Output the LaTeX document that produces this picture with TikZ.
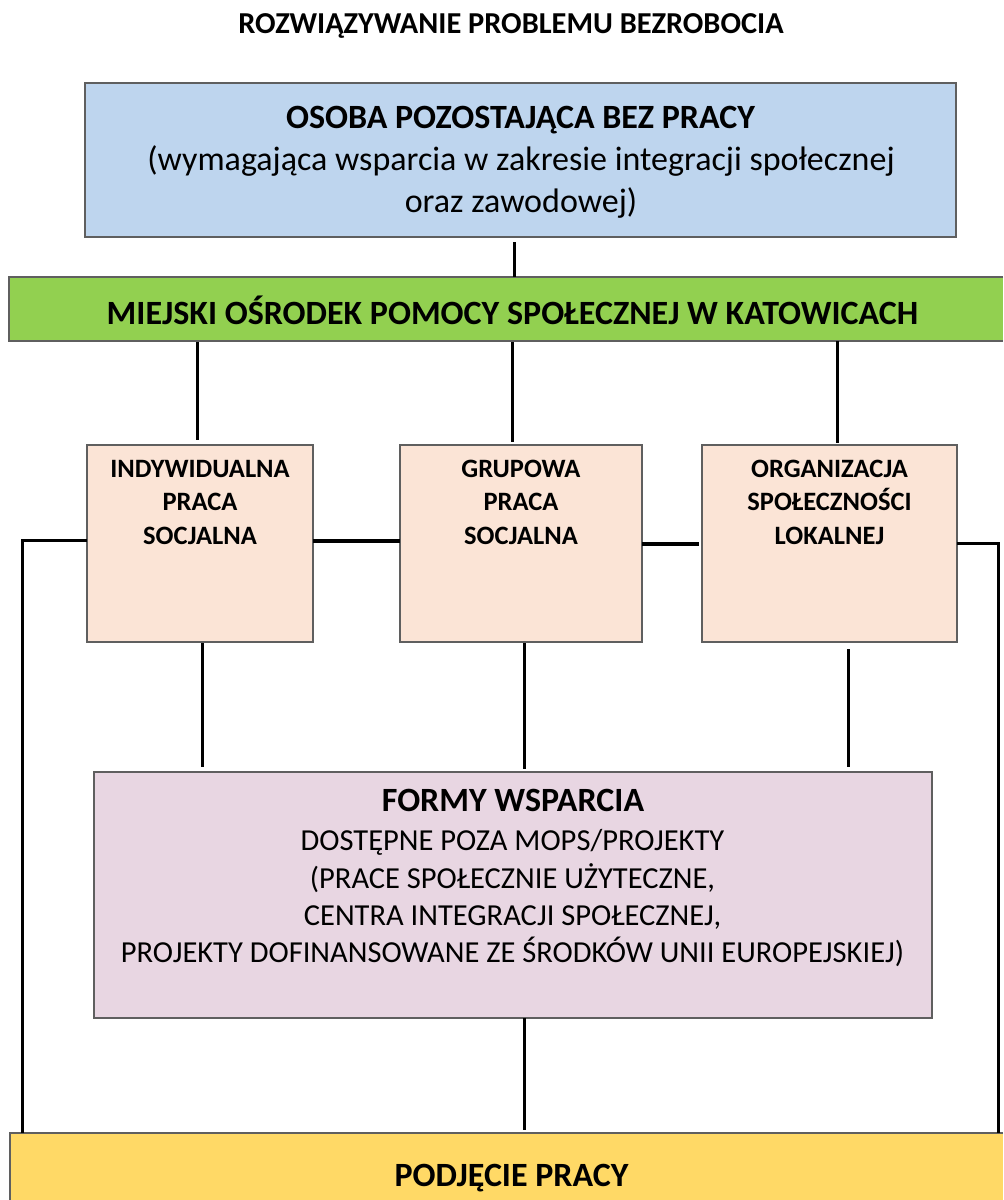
\documentclass[tikz,border=0pt]{standalone}
\usepackage{fontspec}
\setmainfont{Carlito}
\usetikzlibrary{calc}
\definecolor{cblue}{RGB}{190,213,238}
\definecolor{cgreen}{RGB}{146,208,80}
\definecolor{csalmon}{RGB}{251,228,214}
\definecolor{cpink}{RGB}{232,214,226}
\definecolor{cyellow}{RGB}{255,217,102}
\definecolor{cedge}{RGB}{95,95,95}
\begin{document}
\begin{tikzpicture}[x=0.5pt,y=-0.5pt,
  box/.style={draw=cedge, line width=0.6pt, inner sep=0pt, outer sep=0pt},
  band/.style={inner sep=0pt, outer sep=0pt},
  edgeline/.style={draw=cedge, line width=0.6pt},
  txt/.style={inner sep=0pt, anchor=base},
  fbig/.style={font=\fontsize{17}{20}\selectfont\bfseries},
  fbigr/.style={font=\fontsize{17}{20}\selectfont},
  ftitle/.style={font=\fontsize{15.2}{18}\selectfont\bfseries},
  fsmall/.style={font=\fontsize{13.25}{16}\selectfont\bfseries},
  fform/.style={font=\fontsize{15.25}{18}\selectfont},
  conn/.style={line width=1.5pt, line cap=butt},
  hconn/.style={line width=2pt, line cap=butt}]
\useasboundingbox (0,0) rectangle (1003,1200);
\fill[white] (0,0) rectangle (1003,1200);

% helper x positions
\coordinate (xa) at (514,0);
\coordinate (x1t) at (197,0);
\coordinate (x2t) at (512,0);
\coordinate (x3t) at (837,0);
\coordinate (x1b) at (202,0);
\coordinate (x2b) at (524,0);
\coordinate (x3b) at (848,0);
\coordinate (xf) at (524,0);
\coordinate (xl) at (22,0);
\coordinate (xr) at (998,0);

% title
\node[txt, ftitle] (title) at (511,33) {ROZWIĄZYWANIE PROBLEMU BEZROBOCIA};

% blue box
\node[box, fill=cblue, minimum width=435.5pt, minimum height=77pt] (osoba) at (520.5,160) {};
\node[txt, fbig] (osoba1) at (520.5,128) {OSOBA POZOSTAJĄCA BEZ PRACY};
\node[txt, fbigr] (osoba2) at (521,170) {(wymagająca wsparcia w zakresie integracji społecznej};
\node[txt, fbigr] (osoba3) at (521,212) {oraz zawodowej)};

% green band
\node[band, fill=cgreen, minimum width=497pt, minimum height=32pt] (mops) at (506,309) {};
\draw[edgeline] (mops.north east) -- (mops.north west) -- (mops.south west) -- (mops.south east);
\node[txt, fbig] (mops1) at (512.5,324) {MIEJSKI OŚRODEK POMOCY SPOŁECZNEJ W KATOWICACH};

% three boxes
\node[box, fill=csalmon, minimum width=113pt, minimum height=98.5pt] (ind) at (200,543.5) {};
\node[box, fill=csalmon, minimum width=121pt, minimum height=98.5pt] (grp) at (521,543.5) {};
\node[box, fill=csalmon, minimum width=127.5pt, minimum height=98.5pt] (org) at (829.5,543.5) {};

\node[txt, fsmall] (ind1) at (200,477) {INDYWIDUALNA};
\node[txt, fsmall] (ind2) at (200,510.5) {PRACA};
\node[txt, fsmall] (ind3) at (200,544) {SOCJALNA};
\node[txt, fsmall] (grp1) at (521,477) {GRUPOWA};
\node[txt, fsmall] (grp2) at (521,510.5) {PRACA};
\node[txt, fsmall] (grp3) at (521,544) {SOCJALNA};
\node[txt, fsmall] (org1) at (829.5,477) {ORGANIZACJA};
\node[txt, fsmall] (org2) at (829.5,510.5) {SPOŁECZNOŚCI};
\node[txt, fsmall] (org3) at (829.5,544) {LOKALNEJ};

% forms box
\node[box, fill=cpink, minimum width=419pt, minimum height=123pt] (formy) at (513,895) {};
\node[txt, fbig] (formy1) at (513,811) {FORMY WSPARCIA};
\node[txt, fform] (formy2) at (512.5,850) {DOSTĘPNE POZA MOPS/PROJEKTY};
\node[txt, fform] (formy3) at (512.5,888) {(PRACE SPOŁECZNIE UŻYTECZNE,};
\node[txt, fform] (formy4) at (512.5,925) {CENTRA INTEGRACJI SPOŁECZNEJ,};
\node[txt, fform] (formy5) at (512.5,962) {PROJEKTY DOFINANSOWANE ZE ŚRODKÓW UNII EUROPEJSKIEJ)};

% yellow band
\node[band, fill=cyellow, minimum width=496.5pt, minimum height=33.5pt] (praca) at (506.5,1166.5) {};
\draw[edgeline] (praca.north east) -- (praca.north west) -- (praca.south west);
\node[txt, fbig] (praca1) at (511.5,1186) {PODJĘCIE PRACY};

% connectors
\draw[conn] ($(osoba.south -| xa)+(0,5)$) -- (mops.north -| xa);
\draw[conn] ($(mops.south -| x1t)+(0,1)$) -- ($(ind.north -| x1t)+(0,-5)$);
\draw[conn] ($(mops.south -| x2t)+(0,1)$) -- ($(grp.north -| x2t)+(0,-3)$);
\draw[conn] (mops.south -| x3t) -- ($(org.north -| x3t)+(0,-2)$);
\draw[hconn] ($(ind.east)+(0,-3)$) -- ($(grp.west)+(0,-3)$);
\draw[hconn] ($(grp.east)+(0,0.5)$) -- ($(org.west)+(-3,0.5)$);
\draw[conn] ($(ind.west)+(0,-3)$) -| (praca.north -| xl);
\draw[conn] (org.east) -| (praca.north -| xr);
\draw[conn] ($(ind.south -| x1b)+(0,1)$) -- ($(formy.north -| x1b)+(0,-5)$);
\draw[conn] ($(grp.south -| x2b)+(0,1)$) -- ($(formy.north -| x2b)+(0,-3)$);
\draw[conn] ($(org.south -| x3b)+(0,7)$) -- ($(formy.north -| x3b)+(0,-5)$);
\draw[conn] (formy.south -| xf) -- ($(praca.north -| xf)+(0,-3)$);
\end{tikzpicture}
\end{document}
